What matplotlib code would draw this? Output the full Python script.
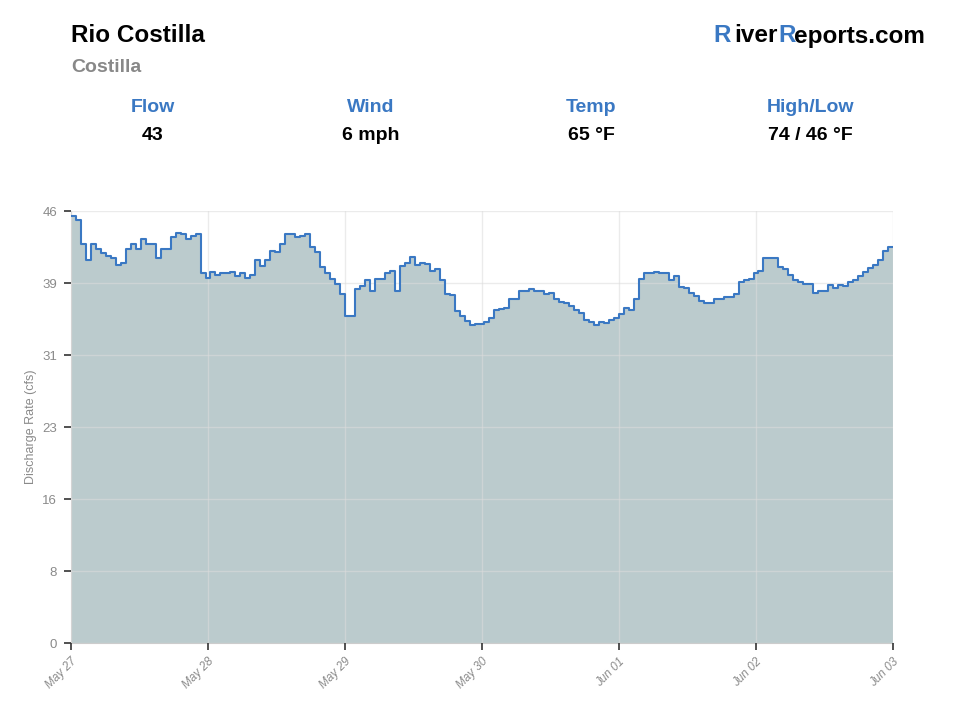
import matplotlib
matplotlib.use("Agg")
import matplotlib.pyplot as plt
import numpy as np

plt.rcParams['font.family'] = ['Liberation Sans', 'DejaVu Sans']

# ---- data ----
river_name = "Rio Costilla"
site_name = "Costilla"
stat_labels = ["Flow", "Wind", "Temp", "High/Low"]
stat_values = ["43", "6 mph", "65 °F", "74 / 46 °F"]
date_labels = ["May 27", "May 28", "May 29", "May 30", "Jun 01", "Jun 02", "Jun 03"]
y_max = 46
flow_cfs = [
    45.5, 45.0, 42.5, 40.8, 42.5, 42.0, 41.5, 41.2, 41.0, 40.3,
    40.5, 42.0, 42.5, 42.0, 43.0, 42.5, 42.5, 41.0, 42.0, 42.0,
    43.2, 43.7, 43.5, 43.0, 43.3, 43.5, 39.4, 38.9, 39.5, 39.2,
    39.4, 39.4, 39.5, 39.1, 39.4, 38.9, 39.2, 40.8, 40.1, 40.8,
    41.7, 41.6, 42.5, 43.5, 43.5, 43.2, 43.3, 43.5, 42.2, 41.6,
    40.0, 39.4, 38.8, 38.2, 37.2, 34.8, 34.8, 37.7, 38.0, 38.7,
    37.5, 38.8, 38.8, 39.4, 39.6, 37.5, 40.1, 40.5, 41.1, 40.3,
    40.5, 40.4, 39.6, 39.8, 38.7, 37.2, 37.1, 35.4, 34.8, 34.3,
    33.9, 34.0, 34.0, 34.2, 34.6, 35.5, 35.6, 35.7, 36.6, 36.6,
    37.5, 37.5, 37.7, 37.5, 37.5, 37.2, 37.3, 36.6, 36.3, 36.2,
    35.9, 35.5, 35.1, 34.4, 34.2, 33.9, 34.2, 34.1, 34.4, 34.6,
    35.0, 35.7, 35.5, 36.6, 38.8, 39.4, 39.4, 39.5, 39.4, 39.4,
    38.7, 39.1, 37.9, 37.8, 37.3, 36.9, 36.4, 36.2, 36.2, 36.6,
    36.6, 36.8, 36.8, 37.2, 38.4, 38.7, 38.8, 39.4, 39.6, 41.0,
    41.0, 41.0, 40.0, 39.8, 39.2, 38.7, 38.4, 38.2, 38.2, 37.3,
    37.5, 37.5, 38.1, 37.8, 38.1, 38.0, 38.4, 38.7, 39.1, 39.5,
    39.9, 40.3, 40.8, 41.7, 42.2,
]

# ---- figure ----
fig = plt.figure(figsize=(9.6, 7.2), dpi=100)
ax = fig.add_axes([71/960, 1 - 643/720, (893 - 71)/960, (643 - 211)/720])

n = len(flow_cfs)
x = np.arange(n + 1)
y = np.array(flow_cfs + [flow_cfs[-1]])

ax.fill_between(x, y, 0, step='post', color='#bbcbcd', linewidth=0, zorder=1)
ax.step(x, y, where='post', color='#3a78c3', linewidth=1.5, zorder=3)

ax.set_xlim(0, n)
ax.set_ylim(0, y_max)

yt = np.linspace(0, y_max, 7)
ax.set_yticks(yt)
ax.set_yticklabels([str(int(np.ceil(v - 1e-9)) + 0) for v in yt])
xt = np.linspace(0, n, len(date_labels))
ax.set_xticks(xt)
ax.set_xticklabels(date_labels, rotation=45, ha='right', rotation_mode='anchor',
                   fontstyle='italic')

ax.grid(True, color='#dcdcdc', linewidth=1, zorder=2, alpha=0.55)
ax.set_axisbelow(False)
for s in ['top', 'right']:
    ax.spines[s].set_visible(False)
ax.spines['left'].set_color('#cccccc')
ax.spines['bottom'].set_color('#cccccc')
ax.tick_params(axis='both', colors='#333333', labelcolor='#8a8a8a',
               length=5, width=1.2)
ax.tick_params(axis='y', pad=5, labelsize=9.5)
ax.tick_params(axis='x', pad=4, labelsize=8.5)
ax.set_ylabel("Discharge Rate (cfs)", color='#8a8a8a', fontsize=9)
ax.yaxis.set_label_coords(-0.041, 0.5)

# ---- header ----
fig.text(71/960, 1 - 36/720, river_name, fontsize=17.5, fontweight='bold',
         color='black', ha='left', va='center')
fig.text(71/960, 1 - 67/720, site_name, fontsize=14, fontweight='bold',
         color='#888888', ha='left', va='center')

stat_x = [153, 371, 591, 810]
for sx, lab, val in zip(stat_x, stat_labels, stat_values):
    fig.text(sx/960, 1 - 108/720, lab, fontsize=14, fontweight='bold',
             color='#3a78c3', ha='center', va='center')
    fig.text(sx/960, 1 - 136/720, val, fontsize=14, fontweight='bold',
             color='black', ha='center', va='center')

# RiverReports.com brand, right aligned, drawn right to left
fig.canvas.draw()
renderer = fig.canvas.get_renderer()
pieces = [("R", '#3a78c3'), ("iver", 'black'), ("R", '#3a78c3'), ("eports.com", 'black')]
gaps = {"eports.com": 1.5, "R": -0.5, "iver": -4}
right = 925
for txt, col in reversed(pieces):
    t = fig.text(right/960, 1 - 36/720, txt, fontsize=17.5, fontweight='bold',
                 color=col, ha='right', va='center')
    bb = t.get_window_extent(renderer=renderer)
    right = bb.x0 + gaps.get(txt, 0)

fig.savefig("out.png", dpi=100)
